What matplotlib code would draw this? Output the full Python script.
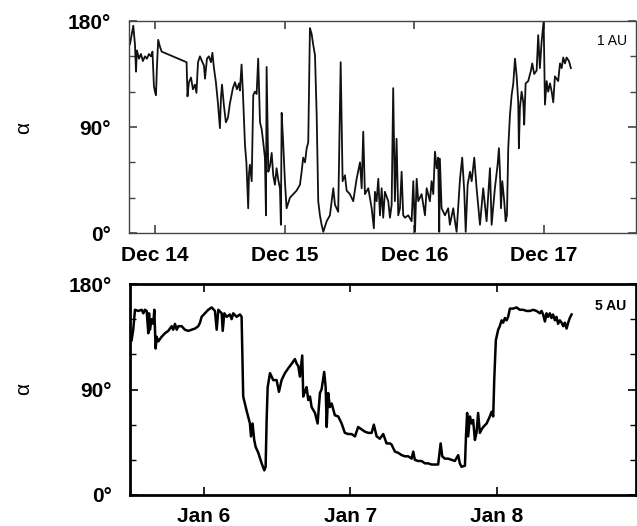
import matplotlib
matplotlib.use("Agg")
import matplotlib.pyplot as plt
from matplotlib.ticker import FixedLocator

plt.rcParams['font.family'] = ['Liberation Sans', 'DejaVu Sans']

# ---- Data: 1 AU (December), time in day-of-month ----
dec_days = [13.800, 13.807, 13.833, 13.846, 13.854, 13.861, 13.877, 13.892, 13.907, 13.923,
            13.938, 13.954, 13.969, 13.981, 13.992, 14.000, 14.008, 14.015, 14.025, 14.039,
            14.052, 14.244, 14.251, 14.262, 14.278, 14.293, 14.308, 14.320, 14.332, 14.347,
            14.362, 14.378, 14.386, 14.401, 14.416, 14.432, 14.443, 14.455, 14.470, 14.486,
            14.501, 14.509, 14.517, 14.532, 14.547, 14.563, 14.578, 14.601, 14.617, 14.632,
            14.648, 14.655, 14.668, 14.678, 14.694, 14.705, 14.719, 14.725, 14.732, 14.746,
            14.758, 14.771, 14.784, 14.796, 14.810, 14.823, 14.835, 14.848, 14.856, 14.861,
            14.874, 14.887, 14.900, 14.912, 14.925, 14.938, 14.951, 14.964, 14.971, 14.977,
            14.989, 15.002, 15.015, 15.041, 15.066, 15.092, 15.118, 15.131, 15.143, 15.157,
            15.170, 15.182, 15.195, 15.208, 15.220, 15.234, 15.247, 15.259, 15.272, 15.285,
            15.298, 15.324, 15.349, 15.375, 15.388, 15.413, 15.432, 15.447, 15.465, 15.478,
            15.503, 15.529, 15.555, 15.581, 15.594, 15.606, 15.619, 15.645, 15.671, 15.688,
            15.696, 15.709, 15.722, 15.735, 15.748, 15.760, 15.773, 15.799, 15.812, 15.825,
            15.837, 15.850, 15.863, 15.876, 15.889, 15.902, 15.914, 15.928, 15.953, 15.979,
            15.992, 16.005, 16.018, 16.030, 16.056, 16.082, 16.095, 16.120, 16.133, 16.146,
            16.159, 16.172, 16.184, 16.192, 16.197, 16.210, 16.236, 16.261, 16.274, 16.300,
            16.313, 16.326, 16.352, 16.369, 16.385, 16.396, 16.411, 16.429, 16.442, 16.462,
            16.480, 16.506, 16.531, 16.557, 16.583, 16.596, 16.621, 16.642, 16.652, 16.660,
            16.668, 16.678, 16.693, 16.704, 16.714, 16.724, 16.737, 16.750, 16.763, 16.776,
            16.789, 16.801, 16.806, 16.814, 16.827, 16.840, 16.847, 16.858, 16.878, 16.899,
            16.909, 16.924, 16.943, 16.955, 16.968, 16.981, 16.997, 17.007, 17.020, 17.032,
            17.046, 17.059, 17.071, 17.084, 17.109, 17.123, 17.136, 17.148, 17.161, 17.174,
            17.192, 17.207]
dec_alpha = [166, 160, 176, 160, 137, 155, 148, 152, 146, 150,
             148, 152, 150, 154, 125, 120, 117, 140, 164, 158,
             154, 145, 116, 128, 132, 122, 126, 119, 145, 150,
             146, 142, 131, 148, 150, 145, 153, 140, 128, 110,
             89, 115, 126, 108, 94, 98, 110, 123, 128, 122,
             127, 121, 143, 120, 75, 60, 21, 50, 58, 44,
             117, 120, 118, 148, 94, 88, 77, 64, 15, 141,
             52, 57, 68, 49, 41, 55, 45, 38, 7, 102,
             76, 44, 21, 30, 33, 36, 41, 52, 64, 60,
             72, 77, 174, 169, 160, 151, 100, 27, 15, 7,
             1, 10, 15, 38, 24, 18, 145, 44, 49, 36,
             33, 27, 46, 60, 38, 86, 33, 38, 21, 4,
             35, 27, 46, 15, 38, 13, 35, 27, 13, 24,
             123, 27, 80, 15, 21, 52, 15, 13, 15, 10,
             44, 1, 46, 27, 33, 15, 38, 27, 44, 33,
             69, 55, 64, 1, 63, 21, 15, 21, 7, 21,
             10, 1, 46, 64, 35, 1, 41, 52, 44, 64,
             38, 7, 38, 10, 55, 7, 38, 58, 72, 52,
             21, 44, 27, 10, 15, 72, 100, 117, 127, 148,
             133, 111, 72, 106, 120, 111, 92, 127, 129, 138,
             144, 135, 138, 168, 140, 162, 180, 109, 129, 120,
             127, 120, 111, 133, 129, 144, 140, 149, 144, 149,
             146, 140]

# ---- Data: 5 AU (January) ----
jan_days = [5.506, 5.517, 5.529, 5.552, 5.575, 5.586, 5.597, 5.609, 5.620, 5.625,
            5.631, 5.643, 5.654, 5.661, 5.670, 5.677, 5.688, 5.711, 5.734, 5.756,
            5.780, 5.790, 5.802, 5.814, 5.825, 5.848, 5.870, 5.893, 5.916, 5.939,
            5.961, 5.973, 5.984, 6.007, 6.029, 6.053, 6.075, 6.087, 6.098, 6.121,
            6.128, 6.139, 6.155, 6.177, 6.189, 6.200, 6.223, 6.246, 6.257, 6.268,
            6.291, 6.314, 6.321, 6.332, 6.343, 6.353, 6.371, 6.394, 6.412, 6.421,
            6.428, 6.435, 6.451, 6.473, 6.496, 6.512, 6.530, 6.553, 6.575, 6.599,
            6.621, 6.633, 6.644, 6.655, 6.671, 6.678, 6.689, 6.701, 6.712, 6.724,
            6.735, 6.758, 6.776, 6.792, 6.803, 6.821, 6.831, 6.838, 6.848, 6.860,
            6.872, 6.894, 6.917, 6.940, 6.962, 6.985, 7.008, 7.031, 7.053, 7.076,
            7.099, 7.122, 7.145, 7.160, 7.179, 7.201, 7.224, 7.247, 7.270, 7.281,
            7.304, 7.326, 7.350, 7.372, 7.395, 7.418, 7.429, 7.440, 7.463, 7.486,
            7.509, 7.531, 7.554, 7.577, 7.599, 7.616, 7.627, 7.645, 7.668, 7.691,
            7.713, 7.736, 7.747, 7.759, 7.782, 7.789, 7.797, 7.804, 7.816, 7.827,
            7.838, 7.850, 7.861, 7.872, 7.884, 7.896, 7.907, 7.930, 7.952, 7.964,
            7.975, 7.982, 7.993, 8.009, 8.020, 8.032, 8.043, 8.055, 8.066, 8.077,
            8.089, 8.111, 8.134, 8.157, 8.180, 8.203, 8.225, 8.248, 8.271, 8.294,
            8.305, 8.316, 8.328, 8.339, 8.350, 8.362, 8.373, 8.384, 8.396, 8.407,
            8.418, 8.430, 8.442, 8.453, 8.464, 8.476, 8.487, 8.498, 8.510]
jan_alpha = [132, 141, 158, 157, 158, 155, 158, 157, 138, 155,
             141, 150, 146, 158, 125, 135, 131, 135, 138, 140,
             144, 141, 146, 141, 144, 144, 141, 140, 141, 142,
             144, 147, 152, 155, 158, 160, 157, 141, 158, 155,
             140, 155, 152, 154, 150, 155, 152, 154, 152, 84,
             72, 61, 50, 61, 47, 41, 36, 27, 21, 24,
             64, 92, 104, 98, 98, 88, 98, 104, 108, 112,
             116, 112, 110, 101, 119, 84, 88, 92, 81, 84,
             75, 70, 61, 87, 90, 105, 92, 58, 87, 75,
             78, 68, 67, 61, 53, 52, 52, 50, 58, 56,
             54, 53, 53, 60, 50, 48, 52, 44, 44, 43,
             37, 36, 34, 33, 33, 31, 37, 30, 29, 29,
             27, 27, 26, 26, 26, 44, 33, 31, 31, 30,
             29, 34, 27, 24, 25, 50, 70, 50, 67, 61,
             64, 47, 53, 70, 53, 56, 58, 61, 67, 71,
             67, 98, 132, 141, 144, 149, 147, 151, 149, 152,
             159, 159, 160, 158, 158, 157, 157, 158, 157, 155,
             157, 154, 148, 155, 152, 155, 151, 154, 149, 152,
             146, 149, 147, 144, 147, 142, 147, 151, 154]

dec_ticks = [14, 15, 16, 17]
dec_ticklabels = ["Dec 14", "Dec 15", "Dec 16", "Dec 17"]
jan_ticks = [6, 7, 8]
jan_ticklabels = ["Jan 6", "Jan 7", "Jan 8"]
y_ticks = [0, 90, 180]
y_ticklabels = ["0°", "90°", "180°"]
y_minor = [30, 60, 120, 150]

fig = plt.figure(figsize=(6.37, 5.26), dpi=100)

W, H = 637.0, 526.0
ax1 = fig.add_axes([129 / W, 1 - 233 / H, (636 - 129) / W, (233 - 21) / H])
ax2 = fig.add_axes([130 / W, 1 - 495 / H, (636 - 130) / W, (495 - 284) / H])


def style(ax, xt, xtl, spine_lw, spine_color):
    ax.set_ylim(0, 180)
    ax.set_xticks(xt)
    ax.set_xticklabels(xtl)
    ax.set_yticks(y_ticks)
    ax.set_yticklabels(y_ticklabels)
    ax.yaxis.set_minor_locator(FixedLocator(y_minor))
    ax.tick_params(which='major', direction='in', length=6, width=1.2,
                   top=True, right=True, labelsize=15, color=spine_color)
    ax.tick_params(axis='x', which='major', pad=9)
    ax.tick_params(axis='y', which='major', pad=13)
    ax.tick_params(which='minor', direction='in', length=4, width=1.0,
                   left=True, right=True, color=spine_color)
    for lab in ax.get_xticklabels() + ax.get_yticklabels():
        lab.set_fontweight('bold')
    for s in ax.spines.values():
        s.set_linewidth(spine_lw)
        s.set_color(spine_color)


style(ax1, dec_ticks, dec_ticklabels, 1.0, '#444444')
ax1.set_xlim(13.80, 17.709)
ax1.plot(dec_days, dec_alpha, color='#111111', lw=1.3)
ax1.text((612 - 129) / (636 - 129), (233 - 40.7) / (233 - 21), "1 AU",
         transform=ax1.transAxes, fontsize=10, ha='center', va='center')

style(ax2, jan_ticks, jan_ticklabels, 2.0, 'black')
ax2.set_xlim(5.495, 8.95)
ax2.plot(jan_days, jan_alpha, color='black', lw=1.8)
ax2.text((611 - 130) / (636 - 130), (495 - 305.7) / (495 - 284), "5 AU",
         transform=ax2.transAxes, fontsize=10, fontweight='bold', ha='center', va='center')

# y-axis symbol for both panels
fig.text(24 / W, 1 - 128 / H, "α", fontsize=15, rotation=90, ha='center', va='center')
fig.text(24 / W, 1 - 389 / H, "α", fontsize=15, rotation=90, ha='center', va='center')

fig.savefig("out.png", dpi=100)
